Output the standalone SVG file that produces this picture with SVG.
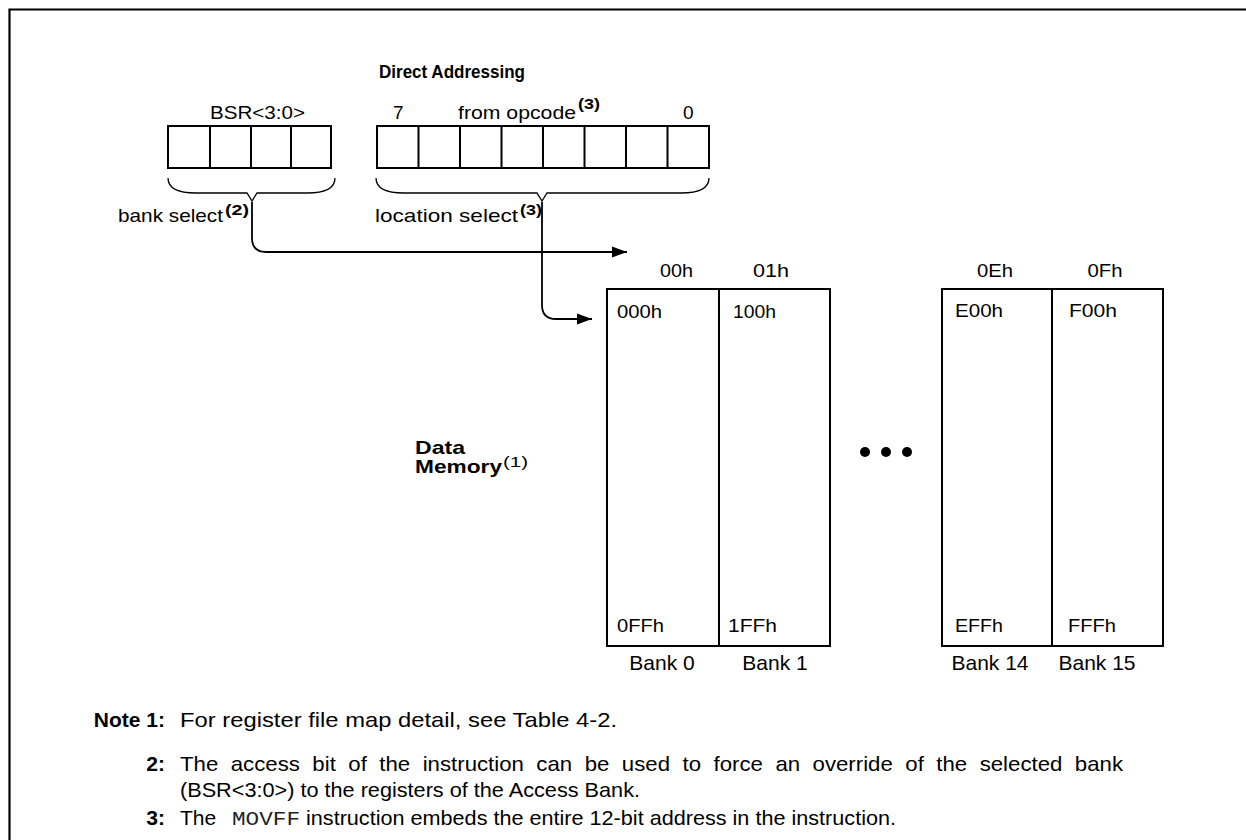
<svg xmlns="http://www.w3.org/2000/svg" width="1246" height="840" viewBox="0 0 1246 840">
<style>
text { font-family: "Liberation Sans", Arial, sans-serif; fill: #000; }
.lbl { font-size: 19px; }
.b { font-weight: bold; }
.sup { font-size: 14px; font-weight: bold; }
.note { font-size: 21px; }
.mono { font-family: "Liberation Mono", "Courier New", monospace; font-size: 21px; fill: #222; }
.box { fill: none; stroke: #000; stroke-width: 2; }
.brace { fill: none; stroke: #000; stroke-width: 1.3; }
.conn { fill: none; stroke: #000; stroke-width: 1.8; }
</style>
<defs>
<marker id="arr" markerWidth="16" markerHeight="12" refX="15" refY="6" orient="auto" markerUnits="userSpaceOnUse">
<path d="M0,0.5 L15,6 L0,11.5 Z" fill="#000"/>
</marker>
</defs>
<rect x="0" y="0" width="1246" height="840" fill="#fff"/>
<path d="M1250,9.5 H9.5 V850" fill="none" stroke="#000" stroke-width="2.2"/>

<g id="title">
<text class="b" x="452" y="78" font-size="18" text-anchor="middle" textLength="146" lengthAdjust="spacingAndGlyphs">Direct Addressing</text>
</g>

<g id="bsr">
<text class="lbl" x="210" y="119" textLength="95" lengthAdjust="spacingAndGlyphs">BSR&lt;3:0&gt;</text>
<rect class="box" x="168" y="126" width="163" height="42"/>
<path class="box" d="M210,126 V168 M251,126 V168 M291,126 V168"/>
</g>

<g id="opcode">
<text class="lbl" x="393" y="119">7</text>
<text class="lbl" x="458" y="119" textLength="118" lengthAdjust="spacingAndGlyphs">from opcode</text>
<text class="sup" x="578" y="109" textLength="22" lengthAdjust="spacingAndGlyphs">(3)</text>
<text class="lbl" x="683" y="119">0</text>
<rect class="box" x="377" y="126" width="332" height="42"/>
<path class="box" d="M418.5,126 V168 M460,126 V168 M501.5,126 V168 M543,126 V168 M584.5,126 V168 M626,126 V168 M667.5,126 V168"/>
</g>

<g id="bank-select">
<path class="brace" d="M168,178 C168,190 180,193 196,193 H247 L252,201 L257,193 H307 C323,193 335,190 335,178"/>
<text class="lbl" x="118" y="222" textLength="105" lengthAdjust="spacingAndGlyphs">bank select</text>
<text class="sup" x="225" y="215" textLength="24" lengthAdjust="spacingAndGlyphs">(2)</text>
</g>

<g id="location-select">
<path class="brace" d="M376,178 C376,190 388,193 404,193 H537 L542,201 L547,193 H681 C697,193 709,190 709,178"/>
<text class="lbl" x="375" y="222" textLength="143" lengthAdjust="spacingAndGlyphs">location select</text>
<text class="sup" x="520" y="215" textLength="22" lengthAdjust="spacingAndGlyphs">(3)</text>
</g>

<g id="connectors">
<path class="conn" d="M252,202 V238 Q252,252 266,252 H627" marker-end="url(#arr)"/>
<path class="conn" d="M542,202 V305 Q542,319 556,319 H592" marker-end="url(#arr)"/>
</g>

<g id="bank0">
<text class="lbl" x="660" y="277" textLength="33" lengthAdjust="spacingAndGlyphs">00h</text>
<rect class="box" x="607" y="289" width="112" height="357"/>
<text class="lbl" x="617" y="318" textLength="45" lengthAdjust="spacingAndGlyphs">000h</text>
<text class="lbl" x="617" y="632" textLength="47" lengthAdjust="spacingAndGlyphs">0FFh</text>
<text class="note" x="662" y="670" text-anchor="middle">Bank 0</text>
</g>

<g id="bank1">
<text class="lbl" x="753" y="277" textLength="36" lengthAdjust="spacingAndGlyphs">01h</text>
<rect class="box" x="719" y="289" width="111" height="357"/>
<text class="lbl" x="733" y="318" textLength="43" lengthAdjust="spacingAndGlyphs">100h</text>
<text class="lbl" x="728" y="632" textLength="49" lengthAdjust="spacingAndGlyphs">1FFh</text>
<text class="note" x="775" y="670" text-anchor="middle">Bank 1</text>
</g>

<g id="ellipsis">
<circle cx="865" cy="452" r="5"/>
<circle cx="886" cy="452" r="5"/>
<circle cx="907" cy="452" r="5"/>
</g>

<g id="bank14">
<text class="lbl" x="995" y="277" text-anchor="middle" textLength="36" lengthAdjust="spacingAndGlyphs">0Eh</text>
<rect class="box" x="942" y="289" width="110" height="357"/>
<text class="lbl" x="955" y="317" textLength="48" lengthAdjust="spacingAndGlyphs">E00h</text>
<text class="lbl" x="955" y="632" textLength="48" lengthAdjust="spacingAndGlyphs">EFFh</text>
<text class="note" x="990" y="670" text-anchor="middle">Bank 14</text>
</g>

<g id="bank15">
<text class="lbl" x="1105" y="277" text-anchor="middle" textLength="35" lengthAdjust="spacingAndGlyphs">0Fh</text>
<rect class="box" x="1052" y="289" width="111" height="357"/>
<text class="lbl" x="1069" y="317" textLength="48" lengthAdjust="spacingAndGlyphs">F00h</text>
<text class="lbl" x="1068" y="632" textLength="48" lengthAdjust="spacingAndGlyphs">FFFh</text>
<text class="note" x="1097" y="670" text-anchor="middle">Bank 15</text>
</g>

<g id="data-memory">
<text class="b" x="415" y="454" font-size="19" textLength="50" lengthAdjust="spacingAndGlyphs">Data</text>
<text class="b" x="415" y="473" font-size="19" textLength="87" lengthAdjust="spacingAndGlyphs">Memory</text>
<text x="503" y="467" font-size="15" textLength="25" lengthAdjust="spacingAndGlyphs">(1)</text>
</g>

<g id="notes">
<text class="note b" x="165" y="727" text-anchor="end">Note 1:</text>
<text class="note" x="180" y="727" textLength="437" lengthAdjust="spacingAndGlyphs">For register file map detail, see Table 4-2.</text>
<text class="note b" x="165" y="771" text-anchor="end">2:</text>
<text class="note" x="180" y="771" word-spacing="6" textLength="943" lengthAdjust="spacingAndGlyphs">The access bit of the instruction can be used to force an override of the selected bank</text>
<text class="note" x="180" y="797" textLength="460" lengthAdjust="spacingAndGlyphs">(BSR&lt;3:0&gt;) to the registers of the Access Bank.</text>
<text class="note b" x="165" y="825" text-anchor="end">3:</text>
<text class="note" x="180" y="825">The</text>
<text class="mono" x="232" y="825" textLength="68" lengthAdjust="spacingAndGlyphs">MOVFF</text>
<text class="note" x="306" y="825" textLength="590" lengthAdjust="spacingAndGlyphs">instruction embeds the entire 12-bit address in the instruction.</text>
</g>
</svg>
